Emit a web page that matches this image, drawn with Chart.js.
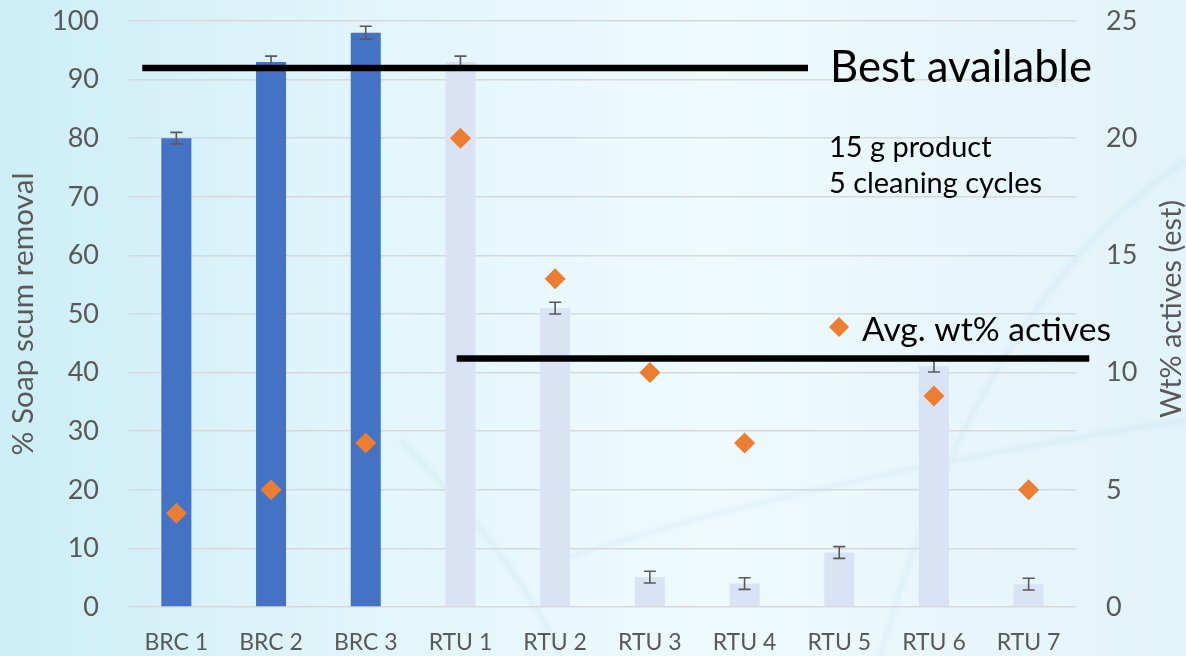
<!DOCTYPE html>
<html>
<head>
<meta charset="utf-8">
<script src="https://cdn.jsdelivr.net/npm/chart.js@4.4.1/dist/chart.umd.min.js"></script>
<style>
  html, body { margin: 0; padding: 0; overflow: hidden; }
  #wrap { width: 1186px; height: 656px; }
</style>
</head>
<body>
<div id="wrap"><canvas id="scumChart"></canvas></div>
<script>
// Products tested
const products = ['BRC 1', 'BRC 2', 'BRC 3', 'RTU 1', 'RTU 2', 'RTU 3', 'RTU 4', 'RTU 5', 'RTU 6', 'RTU 7'];

// % soap scum removal (left axis) and its error
const scumRemoval = [80, 93, 98, 93, 51, 5.1, 4.0, 9.3, 41.1, 3.9];
const scumError = [1, 1, 1.1, 1, 1, 1, 1, 1, 1, 1];

// Avg. wt% actives (right axis), RTU 5 has no value
const activesWt = [4, 5, 7, 20, 14, 10, 7, null, 9, 5];

// Axis ticks
const leftTicks = { min: 0, max: 100, step: 10 };
const rightTicks = { min: 0, max: 25, step: 5 };

// Reference lines: "Best available" on the left axis, the other on the right axis
const bestAvailable = 92;
const activesRef = 10.6;

const GREY = '#595959';
const FONT = 'Lato, "Open Sans", sans-serif';

// fit a font size so the text is a given width
function fitFont(ctx, text, width) {
  ctx.font = '100px ' + FONT;
  return 100 * width / ctx.measureText(text).width;
}

const background = {
  id: 'background',
  beforeDraw(chart) {
    const { ctx, width, height } = chart;
    ctx.save();
    const g = ctx.createLinearGradient(0, 0, width, 0);
    g.addColorStop(0, '#cdeef6');
    g.addColorStop(0.35, '#e4f6fb');
    g.addColorStop(0.6, '#eefafd');
    g.addColorStop(1, '#e2f3f9');
    ctx.fillStyle = g;
    ctx.fillRect(0, 0, width, height);
    // faint network strands
    ctx.filter = 'blur(2px)';
    ctx.strokeStyle = 'rgba(120, 185, 205, 0.12)';
    ctx.lineWidth = 4;
    ctx.beginPath();
    ctx.moveTo(400, 440); ctx.quadraticCurveTo(520, 560, 560, 656);
    ctx.moveTo(560, 560); ctx.quadraticCurveTo(800, 480, 1186, 420);
    ctx.moveTo(880, 656); ctx.quadraticCurveTo(980, 300, 1186, 160);
    ctx.stroke();
    ctx.restore();
  }
};

const overlay = {
  id: 'overlay',
  afterDatasetsDraw(chart) {
    const { ctx, scales } = chart;
    const x = scales.x, y = scales.y, y1 = scales.y1;
    ctx.save();

    // error bars
    ctx.strokeStyle = GREY;
    ctx.lineWidth = 1.6;
    scumRemoval.forEach((v, i) => {
      const cx = x.getPixelForValue(i);
      const top = y.getPixelForValue(v + scumError[i]);
      const bot = y.getPixelForValue(v - scumError[i]);
      ctx.beginPath();
      ctx.moveTo(cx, top); ctx.lineTo(cx, bot);
      ctx.moveTo(cx - 6, top); ctx.lineTo(cx + 6, top);
      ctx.moveTo(cx - 6, bot); ctx.lineTo(cx + 6, bot);
      ctx.stroke();
    });

    // reference lines
    ctx.strokeStyle = '#000';
    ctx.lineWidth = 6.5;
    const step = x.getPixelForValue(1) - x.getPixelForValue(0);
    const x0 = x.getPixelForValue(0);
    let ly = y.getPixelForValue(bestAvailable);
    ctx.beginPath();
    ctx.moveTo(x0 - 0.36 * step, ly);
    ctx.lineTo(x0 + 6.67 * step, ly);
    ctx.stroke();
    ly = y1.getPixelForValue(activesRef);
    ctx.beginPath();
    ctx.moveTo(x0 + 2.96 * step, ly);
    ctx.lineTo(x0 + 9.64 * step, ly);
    ctx.stroke();

    // annotations
    ctx.fillStyle = '#000';
    ctx.textBaseline = 'alphabetic';
    ctx.textAlign = 'left';
    let s = fitFont(ctx, 'Best available', 262);
    ctx.font = s + 'px ' + FONT;
    ctx.fillText('Best available', 830, 82);
    s = fitFont(ctx, '5 cleaning cycles', 213);
    ctx.font = s + 'px ' + FONT;
    ctx.fillText('15 g product', 829, 157);
    ctx.fillText('5 cleaning cycles', 829, 193);

    // legend
    ctx.fillStyle = '#ED7D31';
    ctx.beginPath();
    ctx.moveTo(839, 317); ctx.lineTo(849, 327); ctx.lineTo(839, 337); ctx.lineTo(829, 327);
    ctx.closePath();
    ctx.fill();
    ctx.fillStyle = '#000';
    s = fitFont(ctx, 'Avg. wt% actives', 249);
    ctx.font = s + 'px ' + FONT;
    ctx.fillText('Avg. wt% actives', 862, 341);

    // axis titles
    ctx.fillStyle = GREY;
    ctx.textAlign = 'center';
    ctx.textBaseline = 'middle';
    s = fitFont(ctx, '% Soap scum removal', 283);
    ctx.font = s + 'px ' + FONT;
    ctx.translate(23, 314);
    ctx.rotate(-Math.PI / 2);
    ctx.fillText('% Soap scum removal', 0, 0);
    ctx.setTransform(1, 0, 0, 1, 0, 0);
    s = fitFont(ctx, 'Wt% actives (est)', 218);
    ctx.font = s + 'px ' + FONT;
    ctx.translate(1172, 309);
    ctx.rotate(-Math.PI / 2);
    ctx.fillText('Wt% actives (est)', 0, 0);
    ctx.restore();
  }
};

new Chart(document.getElementById('scumChart'), {
  data: {
    labels: products,
    datasets: [
      {
        type: 'scatter',
        label: 'Avg. wt% actives',
        data: activesWt,
        yAxisID: 'y1',
        showLine: false,
        pointStyle: 'rectRot',
        pointRadius: 10.5,
        pointBackgroundColor: '#ED7D31',
        pointBorderWidth: 0,
        order: 0
      },
      {
        type: 'bar',
        label: '% Soap scum removal',
        data: scumRemoval,
        yAxisID: 'y',
        backgroundColor: products.map(p => p.startsWith('BRC') ? '#4472C4' : '#DAE3F3'),
        barPercentage: 0.317,
        categoryPercentage: 1,
        order: 1
      }
    ]
  },
  options: {
    responsive: true,
    maintainAspectRatio: false,
    animation: false,
    layout: { padding: { top: 21, left: 0, right: 0, bottom: 0 } },
    plugins: { legend: { display: false }, tooltip: { enabled: false } },
    scales: {
      x: {
        type: 'category',
        grid: { display: false },
        border: { display: false },
        ticks: { color: GREY, font: { family: FONT, size: 23 }, padding: 14 },
        afterFit(scale) { scale.height = 49; }
      },
      y: {
        position: 'left',
        min: leftTicks.min,
        max: leftTicks.max,
        ticks: { stepSize: leftTicks.step, color: GREY, font: { family: FONT, size: 27 }, padding: 30 },
        grid: { color: '#d6d9db', lineWidth: 1.6, drawTicks: false },
        border: { display: false },
        afterFit(scale) { scale.width = 129; scale.paddingTop = 0; scale.paddingBottom = 0; }
      },
      y1: {
        position: 'right',
        min: rightTicks.min,
        max: rightTicks.max,
        ticks: { stepSize: rightTicks.step, color: GREY, font: { family: FONT, size: 27 }, padding: 30 },
        grid: { display: false, drawTicks: false },
        border: { display: false },
        afterFit(scale) { scale.width = 110; scale.paddingTop = 0; scale.paddingBottom = 0; }
      }
    }
  },
  plugins: [background, overlay]
});
</script>
</body>
</html>
